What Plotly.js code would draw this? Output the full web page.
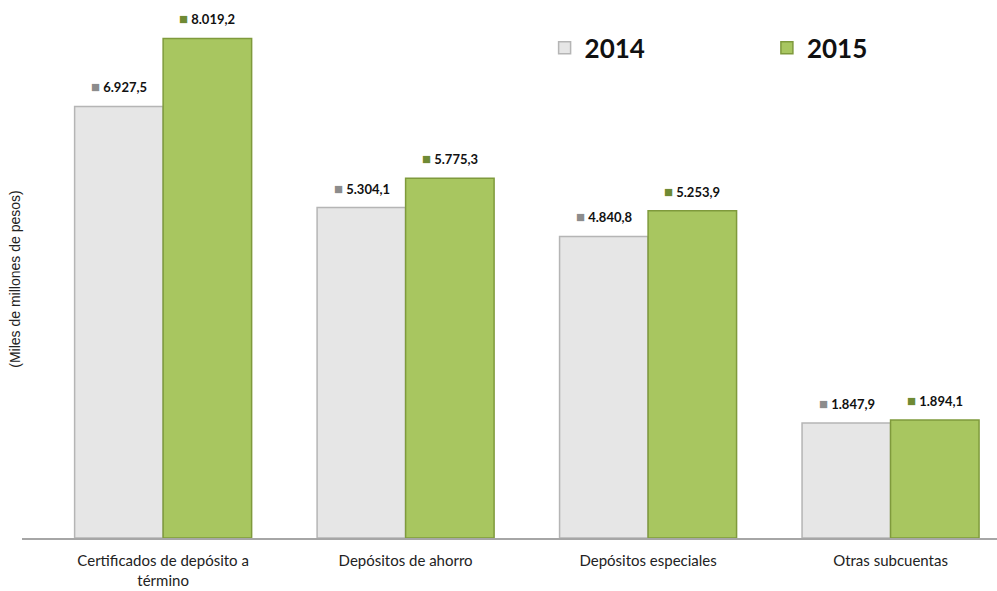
<!DOCTYPE html>
<html>
<head>
<meta charset="utf-8">
<script src="https://cdn.plot.ly/plotly-3.0.1.min.js"></script>
<style>
  html, body { margin: 0; padding: 0; background: #fff; }
  #plot { width: 997px; height: 591px; }
</style>
</head>
<body>
<div id="plot"></div>
<script>
// Categories and values (miles de millones de pesos)
const categories = [
    "Certificados de depósito a<br>término",
    "Depósitos de ahorro",
    "Depósitos especiales",
    "Otras subcuentas"
];
const values2014 = [6927.5, 5304.1, 4840.8, 1847.9];
const values2015 = [8019.2, 5775.3, 5253.9, 1894.1];

const grayFill = "#e6e6e6";
const greenFill = "#a8c660";

function series(name, values, fill, edge, legendId) {
    return {
        type: "bar",
        name: name,
        x: categories,
        y: values,
        legend: legendId,
        marker: { color: fill, line: { color: edge, width: 1.5 } },
        hoverinfo: "skip"
    };
}

// value labels sit above each bar, shifted to the bar of the group
function labels(values, icon, shift) {
    return values.map((v, i) => ({
        x: categories[i], y: v, xref: "x", yref: "y",
        xshift: shift, yshift: 20,
        text: `<span style="color:${icon};font-size:15px">■</span> ` +
              v.toFixed(1).replace(".", ",").replace(/\B(?=(\d{3})+(?!\d))/g, "."),
        showarrow: false,
        font: { family: "Lato, sans-serif", size: 13, color: "#111", weight: "bold" }
    }));
}

const data = [
    series("2014", values2014, grayFill, "#b5b5b5", "legend"),
    series("2015", values2015, greenFill, "#7f9a3c", "legend2")
];

const legendFont = { family: "Lato, sans-serif", size: 26, color: "#111", weight: "bold" };

const layout = {
    width: 997,
    height: 591,
    margin: { l: 22, r: 0, t: 0, b: 53 },
    paper_bgcolor: "#fff",
    plot_bgcolor: "#fff",
    barmode: "group",
    bargap: 0.27,
    bargroupgap: 0,
    showlegend: true,
    legend: {
        x: 0.536, y: 0.911, xanchor: "left", yanchor: "middle",
        font: legendFont, itemwidth: 30
    },
    legend2: {
        x: 0.764, y: 0.911, xanchor: "left", yanchor: "middle",
        font: legendFont, itemwidth: 30
    },
    xaxis: {
        type: "category",
        range: [-0.582, 3.439],
        showline: true,
        linecolor: "#a6a6a6",
        linewidth: 2,
        ticks: "",
        ticklabelstandoff: 8,
        tickfont: { family: "Lato, sans-serif", size: 15, color: "#222" },
        fixedrange: true
    },
    yaxis: {
        range: [0, 8636],
        showgrid: false,
        zeroline: false,
        showticklabels: false,
        ticks: "",
        fixedrange: true
    },
    annotations: [
        ...labels(values2014, "#8c8c8c", -44),
        ...labels(values2015, "#6f8a34", 44),
        {
            text: "(Miles de millones de pesos)",
            xref: "paper", yref: "paper",
            x: -7 / 975, y: 0.48,
            xanchor: "center", yanchor: "middle",
            textangle: -90,
            showarrow: false,
            font: { family: "Liberation Sans, Arial, sans-serif", size: 14, color: "#222" }
        }
    ]
};

Plotly.newPlot("plot", data, layout, { staticPlot: true });
</script>
</body>
</html>
